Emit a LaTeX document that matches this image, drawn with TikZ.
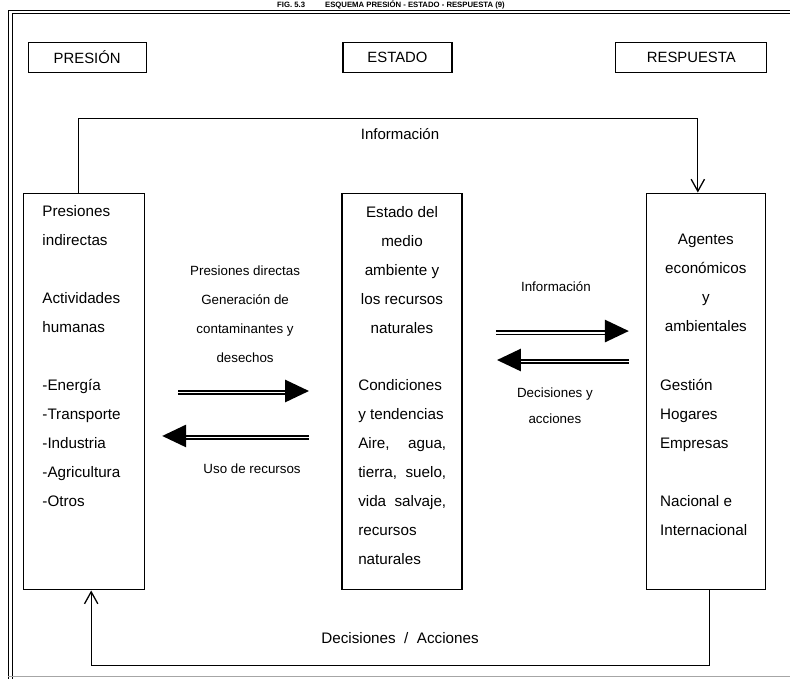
\documentclass[tikz,border=0pt]{standalone}
\usepackage{fontspec}
\setmainfont{Liberation Sans}
\usetikzlibrary{arrows.meta}

\begin{document}
\begin{tikzpicture}[x=0.3mm,y=-0.3mm,
        hdrbox/.style={draw,line width=1pt,inner sep=0pt,minimum height=9mm,font=\fontsize{12.7}{15}\selectfont},
        bigbox/.style={draw,line width=1pt,inner sep=0pt,minimum height=119.1mm},
        boxtext/.style={inner sep=0pt,font=\fontsize{13}{24.75}\selectfont},
        lbltext/.style={inner sep=0pt,align=center,font=\fontsize{11.4}{24.5}\selectfont},
        loopline/.style={line width=1.1pt,-{Straight Barb[length=3.6mm,width=4mm]}},
        fatshaft/.style={line width=2.4pt,-{Triangle[length=7.2mm,width=6.6mm]}},
        thinshaft/.style={line width=0.9pt}]
        \draw[white] (0,0) rectangle (790,679);
        \clip (0,0) rectangle (790,679);
        \draw[line width=0.8pt] (8,679) -- (8,10) -- (790,10);
        \draw[line width=0.8pt] (12,679) -- (12,13.5) -- (790,13.5);
        \draw[black!35,line width=0.8pt] (8,677) -- (790,677);
        \node[anchor=base,inner sep=0pt,font=\bfseries\fontsize{6.6}{8}\selectfont] (title) at (391,7.5) {FIG. 5.3\hspace{6mm}ESQUEMA PRESIÓN - ESTADO - RESPUESTA (9)};

        \node[hdrbox,minimum width=35.4mm] (pres) at (87,57) {PRESIÓN};
        \node[hdrbox,minimum width=32.7mm] (est) at (397.5,57) {ESTADO};
        \node[hdrbox,minimum width=45.3mm] (resp) at (691.5,57) {RESPUESTA};

        \node[bigbox,minimum width=36.3mm] (lbox) at (83.5,391.5) {};
        \node[bigbox,minimum width=36mm] (mbox) at (402,391.5) {};
        \node[bigbox,minimum width=35.7mm] (rbox) at (706.5,391.5) {};

        \node[boxtext,align=left,anchor=north west] (ltxt) at (42,205) {Presiones\\indirectas\\[24.75pt]Actividades\\humanas\\[24.75pt]-Energía\\-Transporte\\-Industria\\-Agricultura\\-Otros};
        \node[boxtext,align=center,anchor=north] (mtop) at (402,206) {Estado del\\medio\\ambiente y\\los recursos\\naturales};
        \node[boxtext,align=left,anchor=north west] (mbot) at (358,379) {Condiciones\\y tendencias\\\makebox[26.4mm][s]{Aire, agua,}\\\makebox[26.4mm][s]{tierra, suelo,}\\\makebox[26.4mm][s]{vida salvaje,}\\recursos\\naturales};
        \node[boxtext,align=center,anchor=north] (rtop) at (706,234) {Agentes\\económicos\\y\\ambientales};
        \node[boxtext,align=left,anchor=north west] (rbot) at (660,379) {Gestión\\Hogares\\Empresas\\[24.75pt]Nacional e\\Internacional};

        \coordinate (infL) at (78,118);
        \coordinate (infR) at (698,118);
        \draw[loopline] (infL |- lbox.north) -- (infL) -- (infR) -- (infR |- rbox.north);
        \node[inner sep=0pt,font=\fontsize{12.8}{15}\selectfont] (inftop) at (400,134) {Información};

        \coordinate (decL) at (91,666);
        \coordinate (decR) at (710,666);
        \draw[loopline] (decR |- rbox.south) -- (decR) -- (decL) -- (decL |- lbox.south);
        \node[inner sep=0pt,font=\fontsize{13}{15}\selectfont] (decbot) at (400,638) {Decisiones\ \ /\ \ Acciones};

        \coordinate (pdA) at (178,391);
        \coordinate (pdB) at (309,391);
        \coordinate (urA) at (309,436);
        \coordinate (urB) at (162,436);
        \draw[fatshaft] (pdA) -- (pdB);
        \draw[thinshaft] ([yshift=-0.9mm]pdA) -- ([yshift=-0.9mm,xshift=-5mm]pdB);
        \draw[fatshaft] (urA) -- (urB);
        \draw[thinshaft] ([yshift=-0.9mm]urA) -- ([yshift=-0.9mm,xshift=5mm]urB);
        \node[lbltext,anchor=north] (pdlbl) at (245,266) {Presiones directas\\Generación de\\contaminantes y\\desechos};
        \node[lbltext] (urlbl) at (252,469) {Uso de recursos};

        \coordinate (inA) at (496,331);
        \coordinate (inB) at (629,331);
        \coordinate (daA) at (629,360);
        \coordinate (daB) at (497,360);
        \draw[fatshaft] (inA) -- (inB);
        \draw[thinshaft] ([yshift=-0.9mm]inA) -- ([yshift=-0.9mm,xshift=-5mm]inB);
        \draw[fatshaft] (daA) -- (daB);
        \draw[thinshaft] ([yshift=-0.9mm]daA) -- ([yshift=-0.9mm,xshift=5mm]daB);
        \node[lbltext] (inmid) at (556,287) {Información};
        \node[lbltext,anchor=north,font=\fontsize{11.4}{22.2}\selectfont] (damid) at (555,388) {Decisiones y\\acciones};
\end{tikzpicture}
\end{document}
